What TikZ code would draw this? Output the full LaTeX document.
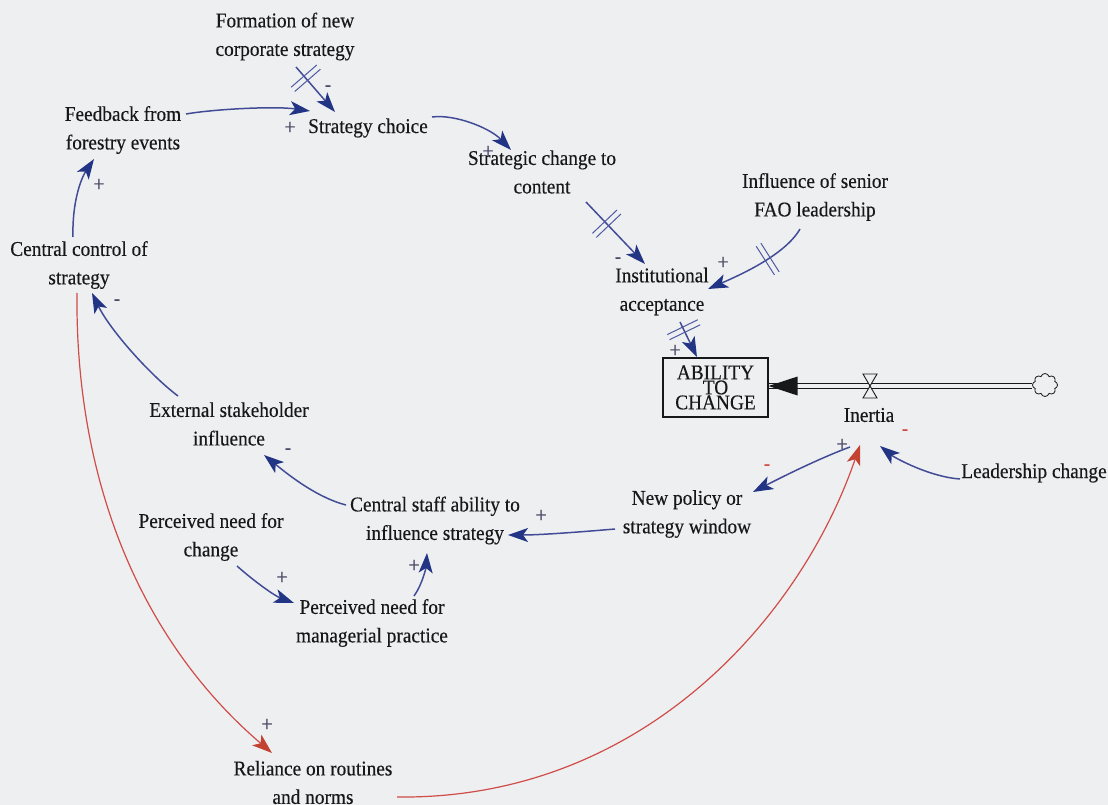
\documentclass[tikz,border=0pt]{standalone}
\usepackage{fontspec}
\setmainfont{Liberation Serif}[FakeStretch=0.92, FakeBold=0.3]
\usetikzlibrary{arrows.meta,calc,decorations.markings,shapes.symbols}

\definecolor{bg}{RGB}{238,239,241}
\definecolor{ink}{RGB}{24,24,26}
\definecolor{linkblue}{RGB}{66,76,150}
\definecolor{headblue}{RGB}{34,52,132}
\definecolor{hashblue}{RGB}{78,90,162}
\definecolor{linkred}{RGB}{208,76,72}
\definecolor{headred}{RGB}{196,66,50}
\definecolor{signgray}{RGB}{72,72,100}
\definecolor{signred}{RGB}{212,72,68}

\tikzset{
  var/.style={align=center, inner sep=0pt, text=ink, font=\fontsize{21}{28.5}\selectfont},
  stock/.style={draw=ink, line width=1.1pt, minimum width=105pt, minimum height=59pt,
    inner sep=0pt, align=center, text=ink, font=\fontsize{21}{15}\selectfont},
  link/.style={draw=linkblue, line width=1.5pt,
    -{Stealth[length=20pt,width=14pt,inset=5pt,fill=headblue,color=headblue]}},
  rlink/.style={draw=linkred, line width=1.2pt,
    -{Stealth[length=20pt,width=14pt,inset=5pt,fill=headred,color=headred]}},
  hashed/.style={postaction={decorate}, decoration={markings,
    mark=at position #1 with {\draw[hashblue, line width=1pt, -]
      (-2.8pt,-17pt) -- (-2.8pt,17pt) (2.8pt,-17pt) -- (2.8pt,17pt);}}},
  signp/.style={inner sep=0pt, text=signgray, font=\fontsize{22}{22}\selectfont},
  signm/.style={inner sep=0pt, text=signgray, font=\fontsize{20}{20}\selectfont},
  signr/.style={inner sep=0pt, text=signred, font=\fontsize{20}{20}\selectfont},
  pipe/.style={draw=ink, line width=1.3pt, double=bg, double distance=3.8pt},
}

\begin{document}
\begin{tikzpicture}[x=1pt, y=-1pt]
  % canvas
  \fill[bg] (0,0) rectangle (1108,805);
  \useasboundingbox (0,0) rectangle (1108,805);

  % variables
  \node[var] (form) at (285,36.5) {Formation of new\\corporate strategy};
  \node[var] (fb) at (123,130) {Feedback from\\forestry events};
  \node[var] (sc) at (368,128) {Strategy choice};
  \node[var] (sct) at (542,172) {Strategic change to\\content};
  \node[var] (inf) at (815,197) {Influence of senior\\FAO leadership};
  \node[var] (inst) at (662,291.5) {Institutional\\acceptance};
  \node[stock] (atc) at (715.5,387.5) {ABILITY\\TO\\CHANGE};
  \node[var] (inertia) at (869,415) {Inertia};
  \node[var] (lead) at (1034,473) {Leadership change};
  \node[var] (npw) at (687,514) {New policy or\\strategy window};
  \node[var] (csa) at (435,520.5) {Central staff ability to\\influence strategy};
  \node[var] (esi) at (229,424) {External stakeholder\\influence};
  \node[var] (ccs) at (79,265) {Central control of\\strategy};
  \node[var] (pnc) at (211,537) {Perceived need for\\change};
  \node[var] (pnm) at (372,623) {Perceived need for\\managerial practice};
  \node[var] (rel) at (313,782.5) {Reliance on routines\\and norms};

  % inflow: source cloud, pipe, valve
  \node[cloud, draw=ink, line width=0.8pt, cloud puffs=8, aspect=1.1,
        minimum width=25pt, minimum height=23pt, inner sep=0pt] (src) at (1045,385) {};
  \node[inner sep=0pt, minimum size=0pt] (valve) at (870,386) {};
  \draw[pipe] (src.west |- valve) -- (valve -| atc.east);
  \fill[ink] (valve -| atc.east) -- ++(29,-9.5) -- ++(0,19) -- cycle;
  \draw[ink, line width=0.9pt, fill=bg, line join=miter]
    ($(valve)+(-7,-12)$) -- ++(14,0) -- ++(-14,24) -- ++(14,0) -- cycle;

  % causal links
  \draw[link] ($(fb.center)+(63,-16)$) .. controls (215,109) and (275,106) .. ($(sc.center)+(-58,-17)$);
  \draw[link, hashed=0.25] ($(form.center)+(11,30.5)$) -- ($(sc.center)+(-33,-16)$);
  \draw[link] ($(sc.center)+(64,-11)$) .. controls (455,114) and (490,128) .. ($(sct.center)+(-31,-22)$);
  \draw[link, hashed=0.35] ($(sct.center)+(44,30)$) -- ($(inst.center)+(-17,-27.5)$);
  \draw[link, hashed=0.4] ($(inf.center)+(-15,32)$) .. controls (785,255) and (740,275) .. ($(inst.center)+(46,-2.5)$);
  \draw[link, hashed=0.22] ($(inst.center)+(18,30.5)$) -- ($(atc.center)+(-18.5,-30.5)$);
  \draw[link] ($(lead.center)+(-74,6)$) .. controls (930,477) and (895,458) .. ($(inertia.center)+(11,31)$);
  \draw[link] ($(inertia.center)+(-19,32)$) .. controls (820,458) and (780,478) .. ($(npw.center)+(66,-22)$);
  \draw[link] ($(npw.center)+(-72,15)$) .. controls (580,532) and (540,535) .. ($(csa.center)+(73,14.5)$);
  \draw[link] ($(pnm.center)+(42,-27)$) .. controls (422,585) and (426,568) .. ($(csa.center)+(-8,32.5)$);
  \draw[link] ($(pnc.center)+(26,29)$) .. controls (255,582) and (275,596) .. ($(pnm.center)+(-78,-20)$);
  \draw[link] ($(csa.center)+(-89,-15.5)$) .. controls (315,497) and (285,472) .. ($(esi.center)+(35,31)$);
  \draw[link] ($(esi.center)+(-51,-28)$) .. controls (150,375) and (110,330) .. ($(ccs.center)+(13,28)$);
  \draw[link] ($(ccs.center)+(-6,-28)$) .. controls (72,205) and (80,180) .. ($(fb.center)+(-29,29)$);
  \draw[rlink] ($(ccs.center)+(-2,28)$) .. controls (75,480) and (140,640) .. ($(rel.center)+(-41,-29.5)$);
  \draw[rlink] ($(rel.center)+(84,14.5)$) .. controls (640,800) and (800,620) .. ($(inertia.center)+(-9,30)$);

  % link polarities
  \node[signp] (s1) at (290,128) {+};
  \node[signm] (s2) at (328,88) {-};
  \node[signp] (s3) at (488,152) {+};
  \node[signm] (s4) at (618,260) {-};
  \node[signp] (s5) at (723,263) {+};
  \node[signp] (s6) at (675,351) {+};
  \node[signr] (s7) at (905,432) {-};
  \node[signr] (s8) at (767,467) {-};
  \node[signp] (s9) at (842,445) {+};
  \node[signp] (s10) at (541,516) {+};
  \node[signp] (s11) at (414,566) {+};
  \node[signp] (s12) at (282,578) {+};
  \node[signm] (s13) at (288,451) {-};
  \node[signm] (s14) at (117,302) {-};
  \node[signp] (s15) at (99,185) {+};
  \node[signp] (s16) at (267,725) {+};
\end{tikzpicture}
\end{document}
